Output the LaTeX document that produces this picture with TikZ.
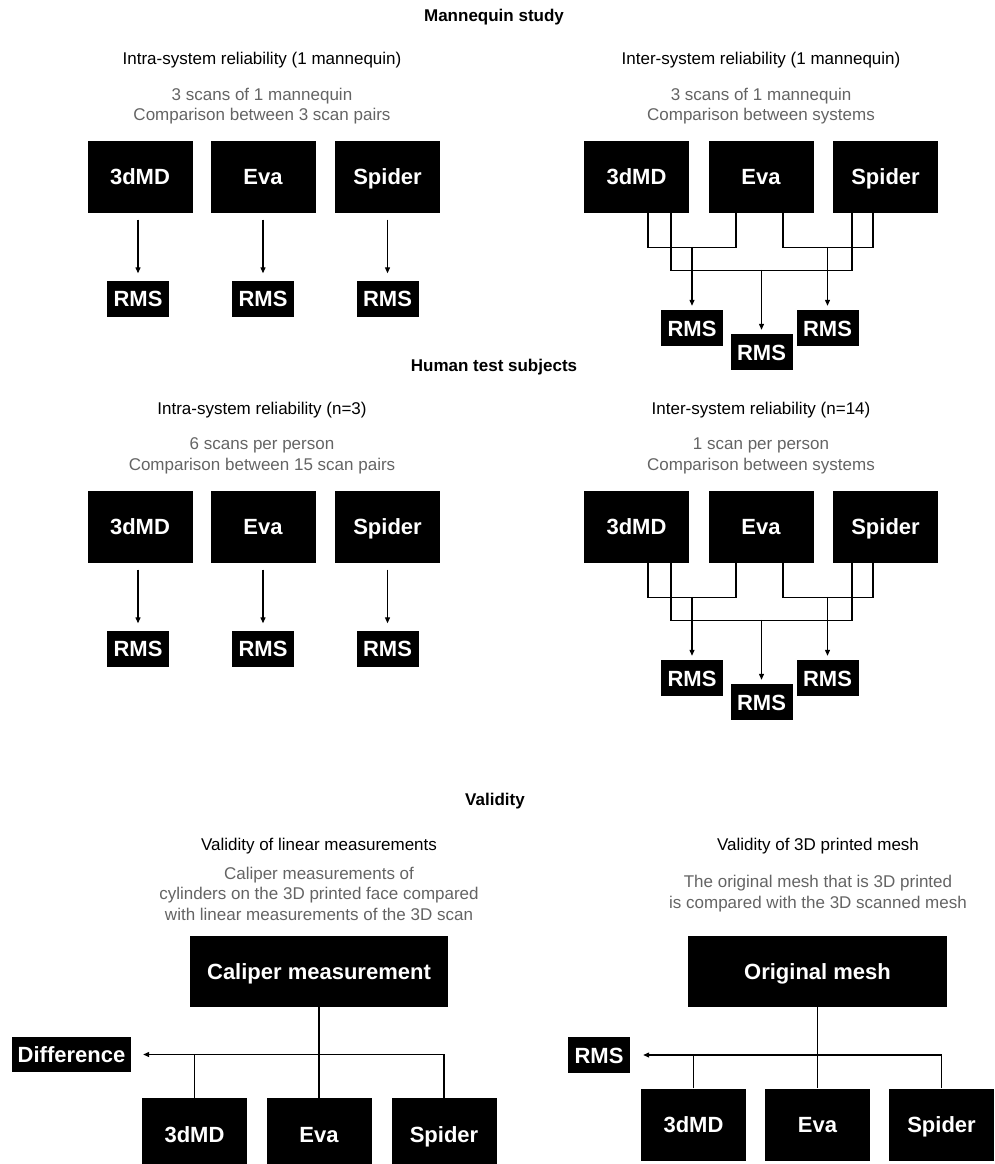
\documentclass[tikz,border=0pt]{standalone}
\usepackage{fontspec}
\setmainfont{Liberation Sans}
\usetikzlibrary{arrows.meta}
\definecolor{notegray}{RGB}{100,100,100}
\tikzset{
  sysbox/.style={fill=black,text=white,font=\fontsize{22}{26}\selectfont\bfseries,minimum width=105pt,minimum height=72pt,inner sep=0pt,text height=16pt,text depth=0pt},
  rmsbox/.style={fill=black,text=white,font=\fontsize{22}{26}\selectfont\bfseries,minimum width=62pt,minimum height=36pt,inner sep=0pt,text height=16pt,text depth=0pt},
  headtxt/.style={font=\fontsize{17}{20}\selectfont\bfseries},
  titletxt/.style={font=\fontsize{17}{20}\selectfont},
  notetxt/.style={font=\fontsize{17}{20.5}\selectfont,text=notegray,align=center},
  link/.style={line width=1.2pt},
  arr/.style={line width=1.2pt,-{Triangle[length=6pt,width=5pt]}}
}
\begin{document}
\begin{tikzpicture}[x=1pt,y=-1pt]
\useasboundingbox (0,0) rectangle (994,1164);

% Mannequin study
\node[headtxt] (hm) at (494,17) {Mannequin study};
\node[titletxt] (tml) at (262,60) {Intra-system reliability (1 mannequin)};
\node[titletxt] (tmr) at (761,60) {Inter-system reliability (1 mannequin)};
\node[notetxt] (nml) at (262,106) {3 scans of 1 mannequin\\Comparison between 3 scan pairs};
\node[notetxt] (nmr) at (761,106) {3 scans of 1 mannequin\\Comparison between systems};

\node[sysbox] (ma1) at (140,176.5) {3dMD}; \node[sysbox] (ma2) at (263,176.5) {Eva}; \node[sysbox] (ma3) at (387.5,176.5) {Spider};
\node[rmsbox] (mr1) at (138,298.5) {RMS}; \node[rmsbox] (mr2) at (263,298.5) {RMS}; \node[rmsbox] (mr3) at (387.5,298.5) {RMS};
\draw[arr,shorten <=7pt,shorten >=7pt] (mr1.north |- ma1.south) -- (mr1.north);
\draw[arr,shorten <=7pt,shorten >=7pt] (mr2.north |- ma2.south) -- (mr2.north);
\draw[arr,shorten <=7pt,shorten >=7pt] (mr3.north |- ma3.south) -- (mr3.north);

\node[sysbox] (mb1) at (636.5,176.5) {3dMD}; \node[sysbox] (mb2) at (761,176.5) {Eva}; \node[sysbox] (mb3) at (885.5,176.5) {Spider};
\node[rmsbox] (mc1) at (692,328) {RMS}; \node[rmsbox] (mc2) at (761.5,352) {RMS}; \node[rmsbox] (mc3) at (827.5,328) {RMS};
\draw[link] ([xshift=11.5pt]mb1.south) -- ++(0,35) -| ([xshift=-25pt]mb2.south);
\draw[link] ([xshift=22pt]mb2.south) -- ++(0,35) -| ([xshift=-12.5pt]mb3.south);
\draw[link] ([xshift=34.5pt]mb1.south) -- ++(0,58) -| ([xshift=-33.5pt]mb3.south);
\draw[arr,shorten >=4pt] ([yshift=63pt]mc1.north) -- (mc1.north);
\draw[arr,shorten >=4pt] ([yshift=64pt]mc2.north) -- (mc2.north);
\draw[arr,shorten >=4pt] ([yshift=63pt]mc3.north) -- (mc3.north);

% Human test subjects
\node[headtxt] (hh) at (494,367) {Human test subjects};
\node[titletxt] (thl) at (262,410) {Intra-system reliability (n=3)};
\node[titletxt] (thr) at (761,410) {Inter-system reliability (n=14)};
\node[notetxt] (nhl) at (262,456) {6 scans per person\\Comparison between 15 scan pairs};
\node[notetxt] (nhr) at (761,456) {1 scan per person\\Comparison between systems};

\node[sysbox] (ha1) at (140,526.5) {3dMD}; \node[sysbox] (ha2) at (263,526.5) {Eva}; \node[sysbox] (ha3) at (387.5,526.5) {Spider};
\node[rmsbox] (hr1) at (138,648.5) {RMS}; \node[rmsbox] (hr2) at (263,648.5) {RMS}; \node[rmsbox] (hr3) at (387.5,648.5) {RMS};
\draw[arr,shorten <=7pt,shorten >=7pt] (hr1.north |- ha1.south) -- (hr1.north);
\draw[arr,shorten <=7pt,shorten >=7pt] (hr2.north |- ha2.south) -- (hr2.north);
\draw[arr,shorten <=7pt,shorten >=7pt] (hr3.north |- ha3.south) -- (hr3.north);

\node[sysbox] (hb1) at (636.5,526.5) {3dMD}; \node[sysbox] (hb2) at (761,526.5) {Eva}; \node[sysbox] (hb3) at (885.5,526.5) {Spider};
\node[rmsbox] (hc1) at (692,678) {RMS}; \node[rmsbox] (hc2) at (761.5,702) {RMS}; \node[rmsbox] (hc3) at (827.5,678) {RMS};
\draw[link] ([xshift=11.5pt]hb1.south) -- ++(0,35) -| ([xshift=-25pt]hb2.south);
\draw[link] ([xshift=22pt]hb2.south) -- ++(0,35) -| ([xshift=-12.5pt]hb3.south);
\draw[link] ([xshift=34.5pt]hb1.south) -- ++(0,58) -| ([xshift=-33.5pt]hb3.south);
\draw[arr,shorten >=4pt] ([yshift=63pt]hc1.north) -- (hc1.north);
\draw[arr,shorten >=4pt] ([yshift=64pt]hc2.north) -- (hc2.north);
\draw[arr,shorten >=4pt] ([yshift=63pt]hc3.north) -- (hc3.north);

% Validity
\node[headtxt] (hv) at (495,801) {Validity};
\node[titletxt] (tvl) at (319,846) {Validity of linear measurements};
\node[titletxt] (tvr) at (818,846) {Validity of 3D printed mesh};
\node[notetxt] (nvl) at (319,893.5) {Caliper measurements of\\cylinders on the 3D printed face compared\\with linear measurements of the 3D scan};
\node[notetxt] (nvr) at (818,893.5) {The original mesh that is 3D printed\\is compared with the 3D scanned mesh};

\node[sysbox,minimum width=258pt,minimum height=71pt] (cal) at (319,971.5) {Caliper measurement};
\node[sysbox] (va1) at (194.5,1134) {3dMD}; \node[sysbox] (va2) at (319,1134) {Eva}; \node[sysbox] (va3) at (444,1134) {Spider};
\node[rmsbox,minimum width=119pt,minimum height=35pt] (dif) at (71.5,1054.5) {Difference};
\draw[link] (cal.south) -- (va2.north);
\draw[arr,shorten >=12pt] (va3.north) |- (dif.east);
\draw[link] (va1.north) -- (va1.north |- dif.east);

\node[sysbox,minimum width=259pt,minimum height=71pt] (orig) at (817.5,971.5) {Original mesh};
\node[sysbox] (vb1) at (693.5,1124.5) {3dMD}; \node[sysbox] (vb2) at (817.5,1124.5) {Eva}; \node[sysbox] (vb3) at (941.5,1124.5) {Spider};
\node[rmsbox] (vrms) at (599,1055) {RMS};
\draw[link] (orig.south) -- (vb2.north);
\draw[arr,shorten >=13pt] (vb3.north) |- (vrms.east);
\draw[link] (vb1.north) -- (vb1.north |- vrms.east);
\end{tikzpicture}
\end{document}
